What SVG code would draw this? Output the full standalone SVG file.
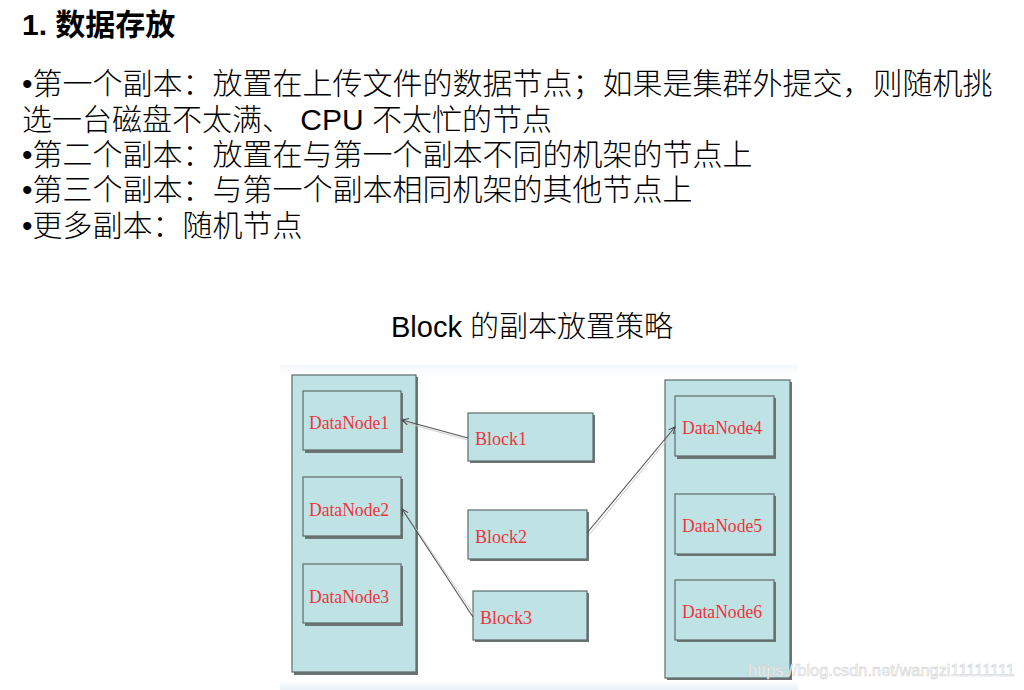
<svg xmlns="http://www.w3.org/2000/svg" width="1024" height="690" viewBox="0 0 1024 690">
<defs>
<style>
.txt{font-family:"Liberation Sans","Noto Sans CJK SC",sans-serif;fill:#000}
.h{font-size:30px;font-weight:bold}
.b{font-size:30px;font-weight:300}
.rack{fill:#bfe3e4;stroke:#5f6b6b;stroke-width:1.2}
.box{fill:#bfe3e4;stroke:#5f6b6b;stroke-width:1.2}
.sh{fill:#6e7474}
.lbl{font-family:"Liberation Serif","Noto Serif CJK SC",serif;font-size:18px;fill:#f0343c}
.conn{stroke:#555;stroke-width:1.1;fill:none}
.conn2{stroke:#c9c9c9;stroke-width:1;fill:none}
</style>
<marker id="arr" viewBox="0 0 10 10" refX="9" refY="5" markerWidth="8" markerHeight="8" orient="auto" markerUnits="userSpaceOnUse">
<path d="M1,1 L9,5 L1,9" fill="none" stroke="#444" stroke-width="1.3"/>
</marker>
<linearGradient id="bg" x1="0" y1="0" x2="0" y2="1">
<stop offset="0" stop-color="#f3f7fa"/>
<stop offset="0.03" stop-color="#ffffff"/>
<stop offset="0.97" stop-color="#ffffff"/>
<stop offset="1" stop-color="#e9f1f8"/>
</linearGradient>
</defs>
<rect width="1024" height="690" fill="#fff"/>
<g id="heading">
<text class="txt h" x="22" y="35">1. 数据存放</text>
</g>
<g id="bullets">
<text class="txt b" x="22" y="94">•第一个副本：放置在上传文件的数据节点；如果是集群外提交，则随机挑</text>
<text class="txt b" x="22" y="130">选一台磁盘不太满、 CPU 不太忙的节点</text>
<text class="txt b" x="22" y="165">•第二个副本：放置在与第一个副本不同的机架的节点上</text>
<text class="txt b" x="22" y="200">•第三个副本：与第一个副本相同机架的其他节点上</text>
<text class="txt b" x="22" y="236">•更多副本：随机节点</text>
</g>
<g id="diagram-title">
<text class="txt" x="391" y="337" font-size="29" font-weight="300">Block 的副本放置策略</text>
</g>
<rect x="280" y="365" width="518" height="325" fill="url(#bg)"/>
<g id="rack1">
<rect class="sh" x="294" y="377" width="124" height="298"/>
<rect class="rack" x="292" y="375" width="124" height="297"/>
</g>
<g id="rack2">
<rect class="sh" x="667" y="382" width="125" height="298"/>
<rect class="rack" x="665" y="380" width="125" height="298"/>
</g>
<g id="datanode1">
<rect class="sh" x="305" y="393" width="98" height="60"/>
<rect class="box" x="303" y="391" width="98" height="59"/>
<text class="lbl" x="309" y="429" textLength="80" lengthAdjust="spacingAndGlyphs">DataNode1</text>
</g>
<g id="datanode2">
<rect class="sh" x="305" y="479" width="98" height="60"/>
<rect class="box" x="303" y="477" width="98" height="59"/>
<text class="lbl" x="309" y="516" textLength="80" lengthAdjust="spacingAndGlyphs">DataNode2</text>
</g>
<g id="datanode3">
<rect class="sh" x="305" y="566" width="98" height="60"/>
<rect class="box" x="303" y="564" width="98" height="59"/>
<text class="lbl" x="309" y="603" textLength="80" lengthAdjust="spacingAndGlyphs">DataNode3</text>
</g>
<g id="block1">
<rect class="sh" x="470" y="415" width="125" height="48"/>
<rect class="box" x="468" y="413" width="125" height="48"/>
<text class="lbl" x="475" y="445" textLength="52" lengthAdjust="spacingAndGlyphs">Block1</text>
</g>
<g id="block2">
<rect class="sh" x="470" y="512" width="119" height="49"/>
<rect class="box" x="468" y="510" width="119" height="49"/>
<text class="lbl" x="475" y="543" textLength="52" lengthAdjust="spacingAndGlyphs">Block2</text>
</g>
<g id="block3">
<rect class="sh" x="475" y="593" width="114" height="49"/>
<rect class="box" x="473" y="591" width="114" height="49"/>
<text class="lbl" x="480" y="624" textLength="52" lengthAdjust="spacingAndGlyphs">Block3</text>
</g>
<g id="datanode4">
<rect class="sh" x="677" y="398" width="99" height="61"/>
<rect class="box" x="675" y="396" width="99" height="60"/>
<text class="lbl" x="682" y="434" textLength="80" lengthAdjust="spacingAndGlyphs">DataNode4</text>
</g>
<g id="datanode5">
<rect class="sh" x="677" y="496" width="99" height="60"/>
<rect class="box" x="675" y="494" width="99" height="60"/>
<text class="lbl" x="682" y="532" textLength="80" lengthAdjust="spacingAndGlyphs">DataNode5</text>
</g>
<g id="datanode6">
<rect class="sh" x="677" y="582" width="99" height="60"/>
<rect class="box" x="675" y="580" width="99" height="60"/>
<text class="lbl" x="682" y="618" textLength="80" lengthAdjust="spacingAndGlyphs">DataNode6</text>
</g>
<g id="connectors">
<line class="conn2" x1="468" y1="440" x2="403" y2="422"/>
<line class="conn" x1="468" y1="438" x2="402" y2="420" marker-end="url(#arr)"/>
<line class="conn2" x1="475" y1="616" x2="404" y2="511"/>
<line class="conn" x1="473" y1="617" x2="402" y2="509" marker-end="url(#arr)"/>
<line class="conn2" x1="589" y1="535" x2="676" y2="429"/>
<line class="conn" x1="587" y1="533" x2="675" y2="427" marker-end="url(#arr)"/>
</g>
<g id="watermark">
<text x="748" y="676" font-family="Liberation Sans, sans-serif" font-size="17" fill="#f7f7f7" stroke="#cfcfcf" stroke-width="0.5" textLength="267" lengthAdjust="spacingAndGlyphs">https://blog.csdn.net/wangzi11111111</text>
</g>
</svg>
